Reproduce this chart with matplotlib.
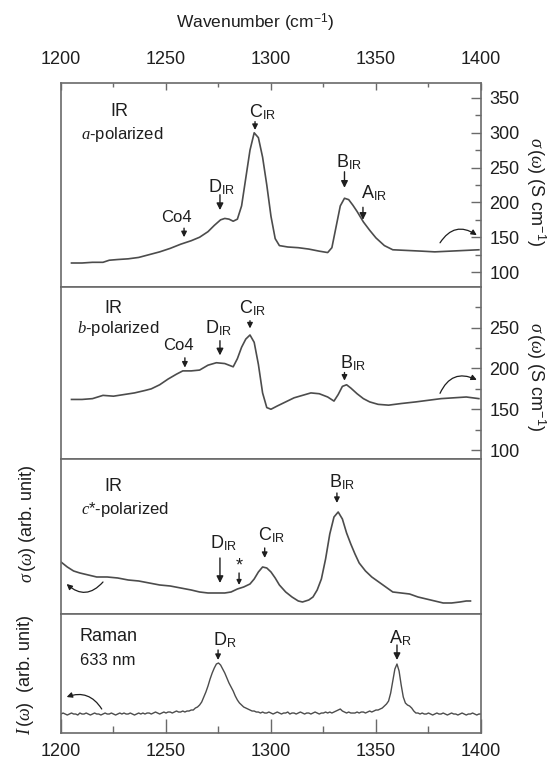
import numpy as np
import matplotlib
matplotlib.use('Agg')
import matplotlib.pyplot as plt
from matplotlib.ticker import MultipleLocator, NullLocator

plt.rcParams['font.family'] = ['Liberation Sans', 'DejaVu Sans']
plt.rcParams['mathtext.fontset'] = 'custom'
plt.rcParams['mathtext.rm'] = 'Liberation Sans'
plt.rcParams['mathtext.sf'] = 'Liberation Sans'
plt.rcParams['mathtext.it'] = 'Liberation Serif:italic'
plt.rcParams['mathtext.bf'] = 'Liberation Sans:bold'

# IR a-polarized conductivity (S/cm)
wn_a = [1205, 1210, 1215, 1220, 1223, 1227, 1232, 1237, 1242, 1247, 1252, 1257,
        1262, 1266, 1270, 1273, 1276, 1278, 1280, 1282, 1284, 1286, 1288, 1290,
        1292, 1294, 1296, 1298, 1300, 1302, 1304, 1308, 1313, 1318, 1323, 1327,
        1329, 1331, 1333, 1335, 1337, 1339, 1341, 1344, 1347, 1350, 1354, 1358,
        1365, 1372, 1378, 1385, 1392, 1399]
sig_a = [113, 113, 114, 114, 117, 118, 119, 121, 125, 129, 134, 140,
         145, 150, 158, 167, 175, 177, 176, 173, 176, 195, 235, 275,
         300, 293, 265, 225, 180, 148, 138, 136, 135, 133, 130, 128,
         135, 165, 195, 206, 204, 196, 187, 172, 160, 149, 138, 132,
         131, 130, 129, 130, 131, 132]

# IR b-polarized conductivity (S/cm)
wn_b = [1205, 1210, 1215, 1220, 1225, 1230, 1235, 1240, 1243, 1247, 1251, 1255,
        1258, 1262, 1266, 1270, 1274, 1278, 1282, 1284, 1286, 1288, 1290, 1292,
        1294, 1296, 1298, 1300, 1303, 1307, 1311, 1315, 1319, 1323, 1327, 1330,
        1332, 1334, 1336, 1338, 1341, 1344, 1347, 1351, 1356, 1362, 1369, 1375,
        1381, 1387, 1393, 1399]
sig_b = [162, 162, 163, 167, 166, 168, 170, 173, 175, 180, 187, 193,
         197, 197, 198, 204, 207, 206, 202, 212, 226, 236, 241, 232,
         205, 170, 152, 150, 154, 159, 164, 167, 170, 169, 165, 160,
         168, 178, 180, 176, 169, 163, 159, 156, 155, 157, 159, 161,
         163, 164, 165, 163]

# IR c*-polarized conductivity (arb. unit)
wn_c = [1200, 1203, 1206, 1209, 1213, 1217, 1222, 1227, 1232, 1237, 1242, 1247,
        1252, 1257, 1262, 1266, 1270, 1274, 1278, 1281, 1284, 1287, 1290, 1292,
        1294, 1296, 1298, 1300, 1302, 1304, 1307, 1310, 1313, 1315, 1318, 1320,
        1322, 1324, 1326, 1328, 1330, 1332, 1334, 1336, 1338, 1340, 1342, 1345,
        1348, 1350, 1354, 1358, 1362, 1366, 1370, 1374, 1378, 1382, 1386, 1390,
        1393, 1395]
sig_c = [52, 47, 43, 41, 39, 37, 37, 36, 34, 33, 31, 29,
         28, 26, 24, 22, 21, 21, 21, 22, 25, 27, 30, 35,
         42, 47, 46, 42, 36, 29, 22, 17, 13, 12, 14, 17,
         24, 35, 55, 80, 97, 102, 95, 81, 70, 60, 51, 43,
         37, 34, 28, 22, 21, 20, 17, 15, 13, 11, 11, 12,
         13, 13]

# Raman intensity at 633 nm (arb. unit), 1 cm-1 steps from 1200 to 1400
wn_r = np.arange(1200, 1401, 1)
int_r = [19, 20, 19, 18, 19, 20, 19, 19, 18, 20, 19, 19, 20, 19, 18, 19, 20, 19, 19, 18,
         19, 20, 19, 19, 20, 19, 18, 19, 20, 19, 20, 19, 19, 20, 19, 18, 19, 20, 19, 20,
         19, 20, 20, 19, 20, 21, 20, 19, 20, 21, 20, 21, 21, 20, 21, 22, 21, 21, 22, 21,
         22, 22, 23, 23, 25, 26, 28, 31, 36, 41, 47, 54, 60, 65, 69, 70, 68, 64, 60, 55,
         50, 46, 42, 37, 33, 30, 28, 26, 25, 24, 23, 22, 22, 21, 21, 20, 21, 20, 20, 21,
         20, 19, 20, 21, 20, 19, 20, 20, 21, 19, 20, 20, 19, 20, 21, 20, 19, 20, 20, 19,
         20, 21, 20, 19, 20, 20, 21, 20, 21, 20, 21, 22, 23, 24, 22, 21, 20, 21, 20, 20,
         20, 21, 20, 21, 21, 20, 21, 22, 21, 22, 23, 23, 24, 25, 27, 29, 32, 40, 52, 64,
         69, 62, 48, 36, 30, 28, 27, 25, 22, 20, 20, 19, 20, 19, 19, 20, 19, 18, 19, 20,
         19, 19, 20, 19, 18, 19, 20, 19, 19, 18, 19, 20, 19, 18, 19, 19, 20, 19, 18, 19, 19]

line_col = '#4c4c4c'
frame_col = '#6a6a6a'
txt_col = '#1e1e1e'

fig = plt.figure(figsize=(5.5, 7.65), dpi=100)
L, W = 0.1109, 0.7636
ax1 = fig.add_axes([L, 0.6248, W, 0.2667])
ax2 = fig.add_axes([L, 0.4000, W, 0.2248])
ax3 = fig.add_axes([L, 0.1974, W, 0.2026])
ax4 = fig.add_axes([L, 0.0418, W, 0.1556])

for ax in (ax1, ax2, ax3, ax4):
    ax.set_xlim(1200, 1400)
    for s in ax.spines.values():
        s.set_color(frame_col)
        s.set_linewidth(1.2)
    ax.tick_params(which='both', direction='in', colors=frame_col,
                   labelcolor=txt_col, labelsize=13, width=1.0)
    ax.tick_params(which='major', length=7)
    ax.tick_params(which='minor', length=4)
    ax.xaxis.set_major_locator(MultipleLocator(50))
    ax.xaxis.set_minor_locator(MultipleLocator(25))
    ax.tick_params(axis='x', which='both', bottom=False, top=False,
                   labelbottom=False, labeltop=False)
    ax.tick_params(axis='y', which='both', left=False, right=False,
                   labelleft=False, labelright=False)

ax1.plot(wn_a, sig_a, color=line_col, lw=1.2)
ax2.plot(wn_b, sig_b, color=line_col, lw=1.2)
ax3.plot(wn_c, sig_c, color=line_col, lw=1.2)
ax4.plot(wn_r, int_r, color=line_col, lw=1.0)

ax1.set_ylim(78.5, 371.5)
ax2.set_ylim(89, 299.8)
ax3.set_ylim(0, 155)
ax4.set_ylim(0, 119)

# top wavenumber axis
ax1.tick_params(axis='x', which='both', top=True, labeltop=True, pad=11)
ax1.tick_params(axis='x', which='major', length=5)
ax1.tick_params(axis='x', which='minor', length=3)
# bottom wavenumber axis
ax4.tick_params(axis='x', which='both', bottom=True, labelbottom=True, pad=7)
ax4.tick_params(axis='x', which='major', length=10)
ax4.tick_params(axis='x', which='minor', length=5)

# right conductivity axes
for ax, top in ((ax1, 350), (ax2, 250)):
    ax.yaxis.set_minor_locator(MultipleLocator(25))
    ax.tick_params(axis='y', which='both', right=True, labelright=True, pad=6)
    ax.set_yticks(np.arange(100, top + 1, 50))
ax3.yaxis.set_major_locator(NullLocator())
ax4.yaxis.set_major_locator(NullLocator())

fig.text(255 / 550, 1 - 23 / 765, 'Wavenumber (cm$^{-1}$)', ha='center',
         va='center', fontsize=12.5, color=txt_col)
fig.text(536 / 550, 1 - 137 / 765, r'$\sigma\,(\omega)$ (S cm$^{-1}$)',
         rotation=-90, ha='center', va='top', fontsize=13, color=txt_col)
fig.text(536 / 550, 1 - 322 / 765, r'$\sigma\,(\omega)$ (S cm$^{-1}$)',
         rotation=-90, ha='center', va='top', fontsize=13, color=txt_col)
fig.text(27 / 550, 1 - 583 / 765, r'$\sigma\,(\omega)$ (arb. unit)',
         rotation=90, ha='center', va='bottom', fontsize=13, color=txt_col)
fig.text(25 / 550, 1 - 735 / 765, r'$I\,(\omega)$  (arb. unit)',
         rotation=90, ha='center', va='bottom', fontsize=13, color=txt_col)


def arrow(ax, x, y0, y1, size=8):
    ax.annotate('', xy=(x, y1), xytext=(x, y0),
                arrowprops=dict(arrowstyle='-|>', color=txt_col, lw=1.0,
                                mutation_scale=size, shrinkA=0, shrinkB=0))


def label(ax, x, y, s, size=13):
    ax.text(x, y, s, ha='center', va='center', fontsize=size, color=txt_col)


def curl(ax, tail, head, rad):
    ax.annotate('', xy=head, xytext=tail,
                arrowprops=dict(arrowstyle='-|>', color=txt_col, lw=0.9,
                                mutation_scale=8, shrinkA=0, shrinkB=0,
                                connectionstyle='arc3,rad=%s' % rad))


# a-polarized
label(ax1, 1228, 330, 'IR')
label(ax1, 1229, 297, '$a$-polarized', 12)
label(ax1, 1296, 330, r'C$_{\mathrm{IR}}$')
arrow(ax1, 1292.4, 316, 304)
label(ax1, 1276.5, 222, r'D$_{\mathrm{IR}}$')
arrow(ax1, 1275.7, 211, 189, 10)
label(ax1, 1255, 178, 'Co4', 12)
arrow(ax1, 1258.6, 163, 150)
label(ax1, 1337, 258, r'B$_{\mathrm{IR}}$')
arrow(ax1, 1335, 244, 221, 10)
label(ax1, 1349, 214, r'A$_{\mathrm{IR}}$')
arrow(ax1, 1343.8, 193, 175, 10)
curl(ax1, (1380.5, 142), (1398, 153), -0.5)

# b-polarized
label(ax2, 1225, 273, 'IR')
label(ax2, 1227, 249, '$b$-polarized', 12)
label(ax2, 1256, 228, 'Co4', 12)
arrow(ax2, 1259, 213, 201)
label(ax2, 1275, 250, r'D$_{\mathrm{IR}}$')
arrow(ax2, 1275.7, 234, 216, 10)
label(ax2, 1291, 274, r'C$_{\mathrm{IR}}$')
arrow(ax2, 1290, 258.5, 249)
label(ax2, 1339, 206, r'B$_{\mathrm{IR}}$')
arrow(ax2, 1335, 195, 185)
curl(ax2, (1380.5, 169.5), (1398, 186), -0.5)

# c*-polarized
label(ax3, 1225, 127, 'IR')
label(ax3, 1230.5, 104, '$c$*-polarized', 12)
label(ax3, 1277.6, 71, r'D$_{\mathrm{IR}}$')
arrow(ax3, 1275.7, 56, 31, 10)
label(ax3, 1285, 48, '*', 13)
arrow(ax3, 1284.8, 41, 29, 7)
label(ax3, 1300.5, 79, r'C$_{\mathrm{IR}}$')
arrow(ax3, 1297, 66, 56)
label(ax3, 1334, 132, r'B$_{\mathrm{IR}}$')
arrow(ax3, 1331.4, 121, 111)
curl(ax3, (1220, 32), (1202.7, 30), -0.5)

# Raman
ax4.text(1209, 96, 'Raman', ha='left', va='center', fontsize=13, color=txt_col)
ax4.text(1209, 73, '633 nm', ha='left', va='center', fontsize=12, color=txt_col)
label(ax4, 1278, 93, r'D$_{\mathrm{R}}$')
arrow(ax4, 1274.8, 83, 73)
label(ax4, 1361.4, 95, r'A$_{\mathrm{R}}$')
arrow(ax4, 1360, 88, 73, 10)
curl(ax4, (1219.4, 24), (1202.7, 36), 0.4)

fig.savefig('out.png', dpi=100)
